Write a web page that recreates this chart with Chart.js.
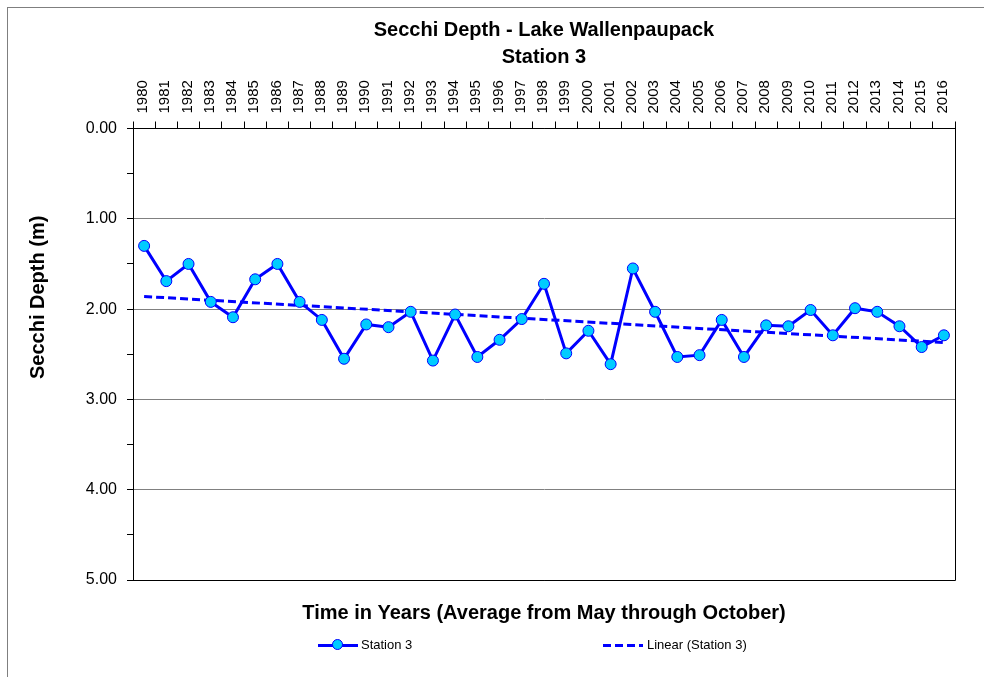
<!DOCTYPE html>
<html lang="en">
<head>
  <meta charset="UTF-8">
  <title>Secchi Depth - Lake Wallenpaupack</title>
  <script src="https://cdn.jsdelivr.net/npm/chart.js"></script>
  <style>
    body {
      margin: 0;
      background-color: #ffffff;
      font-family: "Liberation Sans", Arial, sans-serif;
    }
    .wrap {
      position: relative;
      width: 984px;
      height: 677px;
      overflow: hidden;
    }
    .frame {
      position: absolute;
      left: 7px;
      top: 7px;
      width: 1000px;
      height: 700px;
      border: 1px solid #7f7f7f;
    }
    canvas {
      position: absolute;
      left: 0;
      top: 0;
    }
    .legend-item {
      position: absolute;
      top: 637px;
      height: 16px;
      font-size: 13px;
      color: #000;
    }
    .legend-item .swatch {
      position: absolute;
      top: 7px;
      width: 40px;
      height: 3px;
    }
    .legend-item .dot {
      position: absolute;
      top: 2px;
      left: 14px;
      width: 9px;
      height: 9px;
      border-radius: 50%;
      background: #00ccff;
      border: 1px solid #0000ff;
    }
    .legend-item .label {
      position: absolute;
      left: 43px;
      top: 0;
      white-space: nowrap;
    }
  </style>
</head>
<body>

<div class="wrap">
  <div class="frame"></div>
  <canvas id="secchiChart" width="984" height="677"></canvas>

  <div class="legend-item" style="left: 318px;">
    <div class="swatch" style="background: #0000ff;"></div>
    <div class="dot"></div>
    <span class="label">Station 3</span>
  </div>
  <div class="legend-item" style="left: 603px;">
    <div class="swatch" style="background: repeating-linear-gradient(90deg, #0000ff 0 8px, transparent 8px 12px);"></div>
    <span class="label" style="left: 44px;">Linear (Station 3)</span>
  </div>
</div>

<script>
  // yearly averages, May - October
  const years = ["1980", "1981", "1982", "1983", "1984", "1985", "1986", "1987", "1988", "1989",
                 "1990", "1991", "1992", "1993", "1994", "1995", "1996", "1997", "1998", "1999",
                 "2000", "2001", "2002", "2003", "2004", "2005", "2006", "2007", "2008", "2009",
                 "2010", "2011", "2012", "2013", "2014", "2015", "2016"];
  const secchiDepth = [1.30, 1.69, 1.50, 1.92, 2.09, 1.67, 1.50, 1.92, 2.12, 2.55,
                       2.17, 2.20, 2.03, 2.57, 2.06, 2.53, 2.34, 2.11, 1.72, 2.49,
                       2.24, 2.61, 1.55, 2.03, 2.53, 2.51, 2.12, 2.53, 2.18, 2.19,
                       2.01, 2.29, 1.99, 2.03, 2.19, 2.42, 2.29];

  // linear trend line, read at its two ends
  const trendYears = ["1980", "2016"];
  const trendDepth = [1.86, 2.37];

  const depthTicks = [0, 1, 2, 3, 4, 5];

  const FONT = "'Liberation Sans', Arial, sans-serif";

  // right / bottom edges of the plot area, plus the y axis title
  // (the original sits it above the middle of the axis)
  const plotExtras = {
    id: "plotExtras",
    beforeDatasetsDraw(chart) {
      const { ctx, chartArea } = chart;
      ctx.save();
      ctx.strokeStyle = "#000";
      ctx.lineWidth = 1;
      ctx.beginPath();
      ctx.moveTo(chartArea.right + 0.5, chartArea.top);
      ctx.lineTo(chartArea.right + 0.5, chartArea.bottom + 0.5);
      ctx.lineTo(chartArea.left, chartArea.bottom + 0.5);
      ctx.stroke();
      ctx.restore();
    },
    afterDraw(chart) {
      const { ctx } = chart;
      const y = chart.scales.y;
      ctx.save();
      ctx.translate(38.5, y.getPixelForValue(1.87));
      ctx.rotate(-Math.PI / 2);
      ctx.font = "bold 20px " + FONT;
      ctx.fillStyle = "#000";
      ctx.textAlign = "center";
      ctx.textBaseline = "middle";
      ctx.fillText("Secchi Depth (m)", 0, 0);
      ctx.restore();
    }
  };

  const ctx = document.getElementById("secchiChart").getContext("2d");
  new Chart(ctx, {
    type: "line",
    data: {
      labels: years,
      datasets: [
        {
          label: "Station 3",
          data: secchiDepth,
          borderColor: "#0000ff",
          borderWidth: 3,
          backgroundColor: "#00ccff",
          pointBackgroundColor: "#00ccff",
          pointBorderColor: "#0000ff",
          pointBorderWidth: 1,
          pointRadius: 5.5,
          tension: 0,
          order: 1
        },
        {
          label: "Linear (Station 3)",
          data: trendYears.map((y, i) => ({ x: y, y: trendDepth[i] })),
          borderColor: "#0000ff",
          borderWidth: 3,
          borderDash: [8, 4],
          pointRadius: 0,
          tension: 0,
          order: 2
        }
      ]
    },
    options: {
      responsive: false,
      animation: false,
      layout: {
        padding: { top: 8, left: 0, right: 29, bottom: 50 }
      },
      plugins: {
        legend: { display: false },
        tooltip: { enabled: false },
        title: {
          display: true,
          fullSize: false,
          text: ["Secchi Depth - Lake Wallenpaupack", "Station 3"],
          color: "#000",
          font: { family: FONT, size: 20, weight: "bold", lineHeight: 1.35 },
          padding: { top: 9, bottom: 0 }
        },
        subtitle: {
          display: true,
          fullSize: false,
          position: "bottom",
          text: "Time in Years (Average from May through October)",
          color: "#000",
          font: { family: FONT, size: 20, weight: "bold", lineHeight: 1.35 },
          padding: { top: 20, bottom: 0 }
        }
      },
      scales: {
        x: {
          type: "category",
          position: "top",
          offset: true,
          afterFit: (scale) => { scale.height = 57.5; },
          border: { display: true, color: "#000", width: 1 },
          grid: {
            offset: true,
            drawOnChartArea: false,
            drawTicks: true,
            tickLength: 7,
            tickColor: "#000"
          },
          ticks: {
            autoSkip: false,
            minRotation: 90,
            maxRotation: 90,
            padding: 8,
            labelOffset: 17,
            color: "#000",
            font: { family: FONT, size: 15 }
          }
        },
        y: {
          reverse: true,
          min: 0,
          max: 5,
          afterFit: (scale) => { scale.width = 133; },
          afterBuildTicks: (scale) => {
            const t = [];
            depthTicks.forEach((v, i) => {
              t.push({ value: v });
              if (i < depthTicks.length - 1) t.push({ value: v + 0.5 });
            });
            scale.ticks = t;
          },
          border: { display: true, color: "#000", width: 1 },
          grid: {
            color: (c) => {
              const v = c.tick ? c.tick.value : 0;
              if (v % 1 !== 0) return "rgba(0,0,0,0)";
              if (v === 0 || v === 5) return "#000";
              return "#808080";
            },
            tickColor: "#000",
            tickLength: 6,
            lineWidth: 1
          },
          ticks: {
            padding: 10,
            color: "#000",
            font: { family: FONT, size: 16 },
            callback: (v) => (v % 1 === 0 ? Number(v).toFixed(2) : "")
          }
        }
      }
    },
    plugins: [plotExtras]
  });
</script>

</body>
</html>
